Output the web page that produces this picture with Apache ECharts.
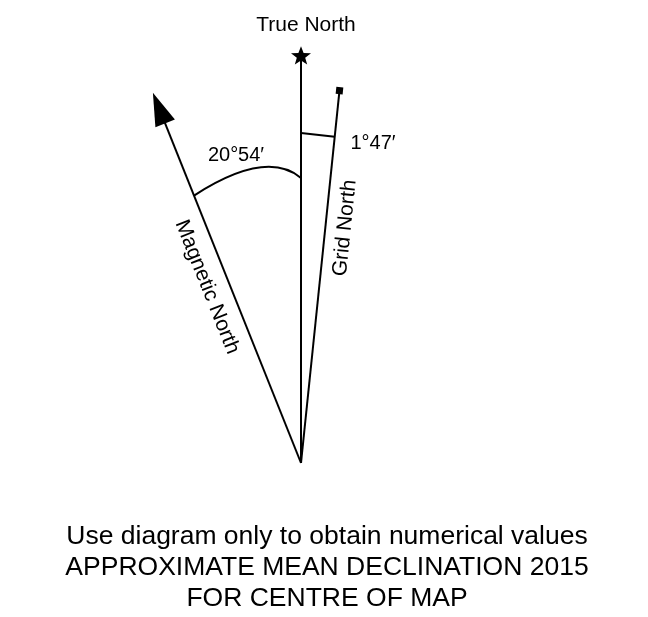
<!DOCTYPE html>
<html>
<head>
<meta charset="utf-8">
<script src="https://cdn.jsdelivr.net/npm/echarts@6/dist/echarts.min.js"></script>
<style>
html,body{margin:0;padding:0;background:#fff;}
#chart{width:648px;height:617px;}
</style>
</head>
<body>
<div id="chart"></div>
<script>
// ---- data ----
const directions = ['True North', 'Magnetic North', 'Grid North'];
// angle of each line as drawn (degrees from true north, + = east); the diagram exaggerates
const drawnAngles = [0, -21.8, 5.9];
// drawn length of each line (diagram units)
const lineLengths = [1.019, 0.997, 0.936];
// angle labels (declination values)
const angleLabels = ['20°54′', '1°47′'];
// radii at which the angle marks cross the lines
const magArcRadius = [0.72, 0.7125];   // on magnetic line, on true north line
const magArcPeak = [-8.5, 0.746];       // peak of arc: angle (deg), radius
const gridMarkRadius = [0.825, 0.82];   // on true north line, on grid north line
const footnote = ['Use diagram only to obtain numerical values', 'APPROXIMATE MEAN DECLINATION 2015', 'FOR CENTRE OF MAP'];

const FONT = '"Liberation Sans", Arial, Helvetica, sans-serif';
const rad = d => d * Math.PI / 180;
const pt = (ang, r) => [r * Math.sin(rad(ang)), r * Math.cos(rad(ang))];

const starPath = (function () {
  const p = [];
  for (let i = 0; i < 10; i++) {
    const a = -Math.PI / 2 + i * Math.PI / 5;
    const r = i % 2 === 0 ? 10 : 4.2;
    p.push((i === 0 ? 'M' : 'L') + (10 + r * Math.cos(a)).toFixed(2) + ' ' + (10 + r * Math.sin(a)).toFixed(2));
  }
  return 'path://' + p.join(' ') + ' Z';
})();

const lineStyle = { color: '#000', width: 2 };

const trueEnd = pt(drawnAngles[0], lineLengths[0]);
const arrowLen = 33 / 400;
const magHead = pt(drawnAngles[1], lineLengths[1] - arrowLen / 2);
const gridEnd = pt(drawnAngles[2], lineLengths[2]);

const series = [
  {
    type: 'line', name: directions[0], silent: true, animation: false, clip: false,
    lineStyle: lineStyle,
    data: [
      { value: [0, 0], symbol: 'none' },
      { value: trueEnd, symbol: starPath, symbolSize: [20, 19], symbolKeepAspect: true, itemStyle: { color: '#000' } }
    ]
  },
  {
    type: 'line', name: directions[1], silent: true, animation: false, clip: false,
    lineStyle: lineStyle,
    data: [
      { value: [0, 0], symbol: 'none' },
      { value: magHead, symbol: 'triangle', symbolSize: [21, 33], symbolRotate: -drawnAngles[1], itemStyle: { color: '#000' } }
    ]
  },
  {
    type: 'line', name: directions[2], silent: true, animation: false, clip: false,
    lineStyle: lineStyle,
    data: [
      { value: [0, 0], symbol: 'none' },
      { value: gridEnd, symbol: 'rect', symbolSize: 7, symbolRotate: -drawnAngles[2], itemStyle: { color: '#000' } }
    ]
  },
  {
    type: 'line', name: 'grid mark', silent: true, animation: false, symbol: 'none', clip: false,
    lineStyle: lineStyle,
    data: [pt(drawnAngles[0], gridMarkRadius[0]), pt(drawnAngles[2], gridMarkRadius[1])]
  },
  {
    type: 'custom', name: 'declination arc', silent: true, animation: false, clip: false,
    data: [[0]],
    renderItem: function (params, api) {
      const a = api.coord(pt(drawnAngles[1], magArcRadius[0]));
      const c = api.coord(pt(drawnAngles[0], magArcRadius[1]));
      const b = api.coord(pt(magArcPeak[0], magArcPeak[1]));
      const cp = [2 * b[0] - (a[0] + c[0]) / 2, 2 * b[1] - (a[1] + c[1]) / 2];
      return {
        type: 'bezierCurve',
        shape: { x1: a[0], y1: a[1], x2: c[0], y2: c[1], cpx1: cp[0], cpy1: cp[1] },
        style: { stroke: '#000', lineWidth: 2, fill: null }
      };
    }
  }
];

const chart = echarts.init(document.getElementById('chart'), null, { renderer: 'canvas' });
chart.setOption({
  backgroundColor: '#fff',
  animation: false,
  grid: { left: 1, top: 63, width: 600, height: 400, containLabel: false },
  xAxis: { type: 'value', min: -0.75, max: 0.75, show: false },
  yAxis: { type: 'value', min: 0, max: 1, show: false },
  series: series,
  graphic: [
    { type: 'text', x: 306, y: 25, style: { text: directions[0], font: '21px ' + FONT, fill: '#000', align: 'center', verticalAlign: 'middle' } },
    { type: 'text', x: 207, y: 287, rotation: rad(-90 - drawnAngles[1]),
      style: { text: directions[1], font: '21px ' + FONT, fill: '#000', align: 'center', verticalAlign: 'middle' } },
    { type: 'text', x: 345, y: 228, rotation: rad(90 - drawnAngles[2]),
      style: { text: directions[2], font: '21px ' + FONT, fill: '#000', align: 'center', verticalAlign: 'middle' } },
    { type: 'text', x: 236, y: 155, style: { text: angleLabels[0], font: '20px ' + FONT, fill: '#000', align: 'center', verticalAlign: 'middle' } },
    { type: 'text', x: 373, y: 143, style: { text: angleLabels[1], font: '20px ' + FONT, fill: '#000', align: 'center', verticalAlign: 'middle' } },
    { type: 'text', x: 327, y: 568, style: { text: footnote.join('\n'), font: '26.5px ' + FONT, lineHeight: 31, fill: '#000', align: 'center', verticalAlign: 'middle' } }
  ]
});
</script>
</body>
</html>
